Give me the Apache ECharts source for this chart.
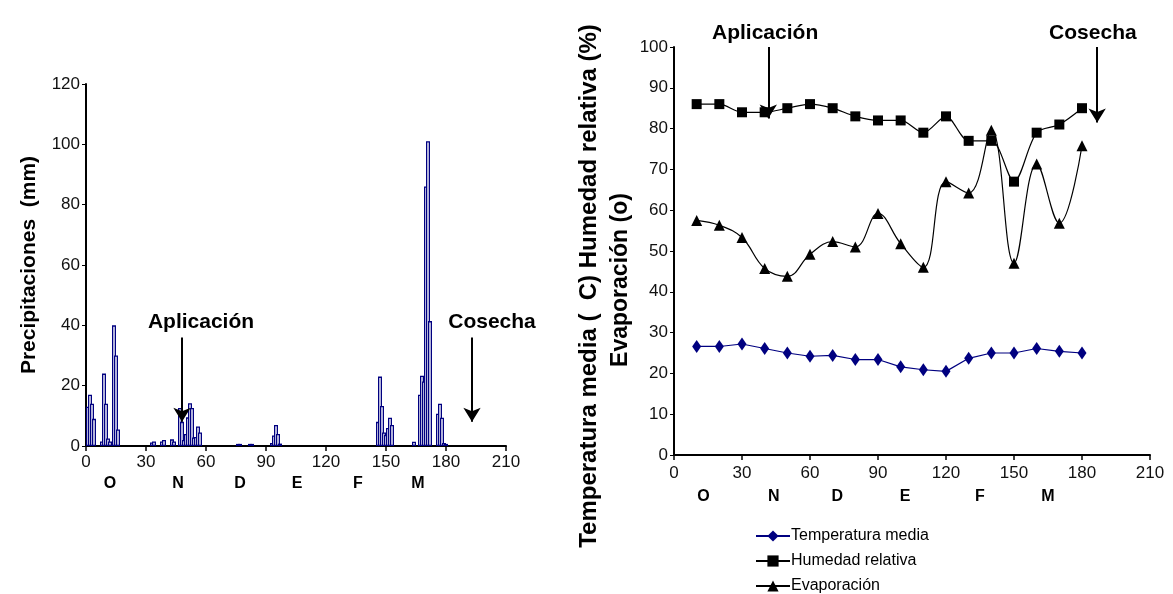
<!DOCTYPE html>
<html>
<head>
<meta charset="utf-8">
<script src="https://cdn.jsdelivr.net/npm/echarts@6/dist/echarts.min.js"></script>
<style>
  html, body { margin: 0; padding: 0; background: #fff; }
  #main { width: 1173px; height: 594px; }
</style>
</head>
<body>
<div id="main"></div>
<script>
// lluvia diaria (dia desde el inicio, mm)
const rainDays = [1, 2, 3, 4, 8, 9, 10, 11, 12, 14, 15, 16,
  33, 34, 38, 39, 43, 44, 47, 48, 49, 50, 51, 52, 53, 54, 55, 56, 57,
  76, 77, 82, 83, 93, 94, 95, 96, 97,
  146, 147, 148, 149, 150, 151, 152, 153, 164,
  167, 168, 169, 170, 171, 172, 176, 177, 178, 179, 180];
const rainMm = [13, 17, 14, 9, 1.5, 24, 14, 2.5, 1.5, 40, 30, 5.5,
  1.2, 1.5, 1.5, 2, 2.2, 1.5, 12.6, 8, 2, 4, 9.5, 14.2, 12.6, 2.8, 3, 6.5, 4.5,
  0.7, 0.7, 0.7, 0.7, 1, 3.5, 7, 4, 0.8,
  8, 23, 13.3, 4.5, 3.7, 6, 9.4, 7, 1.4,
  17, 23.3, 21.4, 86, 101, 41.4, 10.7, 14, 9.4, 1, 0.7];

// observaciones cada 10 dias
const obsDays = [10, 20, 30, 40, 50, 60, 70, 80, 90, 100, 110, 120, 130, 140, 150, 160, 170, 180];
const tempMedia = [26.6, 26.6, 27.2, 26.1, 25, 24.2, 24.4, 23.4, 23.4, 21.6, 20.9, 20.5, 23.7, 25, 25, 26.1, 25.4, 25];
const humedad = [86, 86, 84, 84, 85, 86, 85, 83, 82, 82, 79, 83, 77, 77, 67, 79, 81, 85];
const evaporacion = [57.5, 56.3, 53.3, 45.7, 43.8, 49.2, 52.3, 51, 59.2, 51.8, 46, 67, 64.2, 79.6, 47, 71.3, 56.8, 75.8];

const monthNames = ['O', 'N', 'D', 'E', 'F', 'M'];
const monthDaysLeft = [12, 46, 77, 105.5, 136, 166];
const monthDaysRight = [13, 44, 72, 102, 135, 165];

const FONT = '"Liberation Sans", Arial, sans-serif';
const chart = echarts.init(document.getElementById('main'), null, { renderer: 'canvas' });

function dayAxis(gridIndex, margin) {
  return {
    type: 'value', gridIndex: gridIndex, min: 0, max: 210, interval: 30,
    axisLine: { lineStyle: { color: '#000', width: 2 } },
    axisTick: { length: 5, lineStyle: { color: '#000', width: 1.5 } },
    splitLine: { show: false },
    axisLabel: { color: '#111', fontSize: 17, fontFamily: FONT, margin: margin }
  };
}
function monthAxis(gridIndex, days, margin) {
  return {
    type: 'value', gridIndex: gridIndex, min: 0, max: 210, position: 'bottom',
    axisLine: { show: false }, axisTick: { show: false }, splitLine: { show: false },
    axisLabel: {
      customValues: days, margin: margin,
      color: '#000', fontSize: 16, fontWeight: 'bold', fontFamily: FONT,
      formatter: function (v) { return monthNames[days.indexOf(v)]; }
    }
  };
}
function valueAxis(gridIndex, max, interval) {
  return {
    type: 'value', gridIndex: gridIndex, min: 0, max: max, interval: interval,
    axisLine: { show: true, lineStyle: { color: '#000', width: 2 } },
    axisTick: { show: true, length: 4, lineStyle: { color: '#000' } },
    splitLine: { show: false },
    axisLabel: { color: '#111', fontSize: 17, fontFamily: FONT, margin: 6 }
  };
}
function arrows(pairs) {
  return {
    silent: true, symbol: ['none', 'arrow'], symbolSize: [13, 14],
    label: { show: false },
    lineStyle: { color: '#000', width: 2, type: 'solid' },
    data: pairs.map(p => [{ coord: [p[0], p[1]] }, { coord: [p[0], p[2]] }])
  };
}

var yLeft = valueAxis(0, 120, 20);
yLeft.name = 'Precipitaciones  (mm)';
yLeft.nameLocation = 'middle';
yLeft.nameGap = 46;
yLeft.nameTextStyle = { fontSize: 21, fontWeight: 'bold', fontFamily: FONT, color: '#000' };

var option = {
  animation: false,
  backgroundColor: '#fff',
  grid: [
    { left: 86, top: 84, width: 420, height: 362, outerBoundsMode: 'none' },
    { left: 674, top: 47, width: 476, height: 408, outerBoundsMode: 'none' }
  ],
  xAxis: [
    dayAxis(0, 8),
    monthAxis(0, monthDaysLeft, 30),
    dayAxis(1, 10),
    monthAxis(1, monthDaysRight, 34)
  ],
  yAxis: [yLeft, valueAxis(1, 100, 10)],
  legend: {
    orient: 'vertical', left: 755, top: 528, padding: 0, itemGap: 9,
    itemWidth: 34, itemHeight: 14,
    textStyle: { fontSize: 16, fontFamily: FONT, color: '#000', padding: [0, 0, 0, -4] },
    data: ['Temperatura media', 'Humedad relativa', 'Evaporación']
  },
  series: [
    {
      name: 'Precipitaciones', type: 'bar', xAxisIndex: 0, yAxisIndex: 0,
      barWidth: 4,
      itemStyle: { color: '#fff', borderColor: '#000080', borderWidth: 1.3 },
      data: rainDays.map((d, i) => [d, rainMm[i]]),
      markLine: arrows([[48, 36, 8], [193, 36, 8]])
    },
    {
      name: 'Temperatura media', type: 'line', xAxisIndex: 2, yAxisIndex: 1,
      symbol: 'diamond', symbolSize: [9, 13],
      lineStyle: { color: '#000080', width: 1.2 },
      itemStyle: { color: '#000080' },
      data: obsDays.map((d, i) => [d, tempMedia[i]])
    },
    {
      name: 'Humedad relativa', type: 'line', xAxisIndex: 2, yAxisIndex: 1,
      smooth: 0.3, symbol: 'rect', symbolSize: 10,
      lineStyle: { color: '#000', width: 1.2 },
      itemStyle: { color: '#000' },
      data: obsDays.map((d, i) => [d, humedad[i]]),
      markLine: arrows([[41.6, 100, 82.5], [186.7, 100, 81.5]])
    },
    {
      name: 'Evaporación', type: 'line', xAxisIndex: 2, yAxisIndex: 1,
      smooth: 0.4, symbol: 'triangle', symbolSize: 11,
      lineStyle: { color: '#000', width: 1.2 },
      itemStyle: { color: '#000' },
      data: obsDays.map((d, i) => [d, evaporacion[i]])
    }
  ]
};
chart.setOption(option);

// anotaciones de texto
function label(xIdx, yIdx, day, val, str) {
  const p = chart.convertToPixel({ xAxisIndex: xIdx, yAxisIndex: yIdx }, [day, val]);
  return {
    type: 'text', x: p[0], y: p[1], silent: true,
    style: { text: str, font: 'bold 21px ' + FONT, fill: '#000', align: 'center', verticalAlign: 'middle' }
  };
}
function vtitle(x, y, size, str) {
  return {
    type: 'text', x: x, y: y, rotation: Math.PI / 2, silent: true,
    style: { text: str, font: 'bold ' + size + 'px ' + FONT, fill: '#000', align: 'center', verticalAlign: 'middle' }
  };
}
chart.setOption({
  graphic: [
    label(0, 0, 57.5, 41, 'Aplicación'),
    label(0, 0, 203, 41, 'Cosecha'),
    label(2, 1, 40.2, 103.5, 'Aplicación'),
    label(2, 1, 184.8, 103.5, 'Cosecha'),
    vtitle(589, 286, 24, 'Temperatura media (  C) Humedad relativa (%)'),
    vtitle(621, 280, 23, 'Evaporación (o)')
  ]
});
</script>
</body>
</html>
